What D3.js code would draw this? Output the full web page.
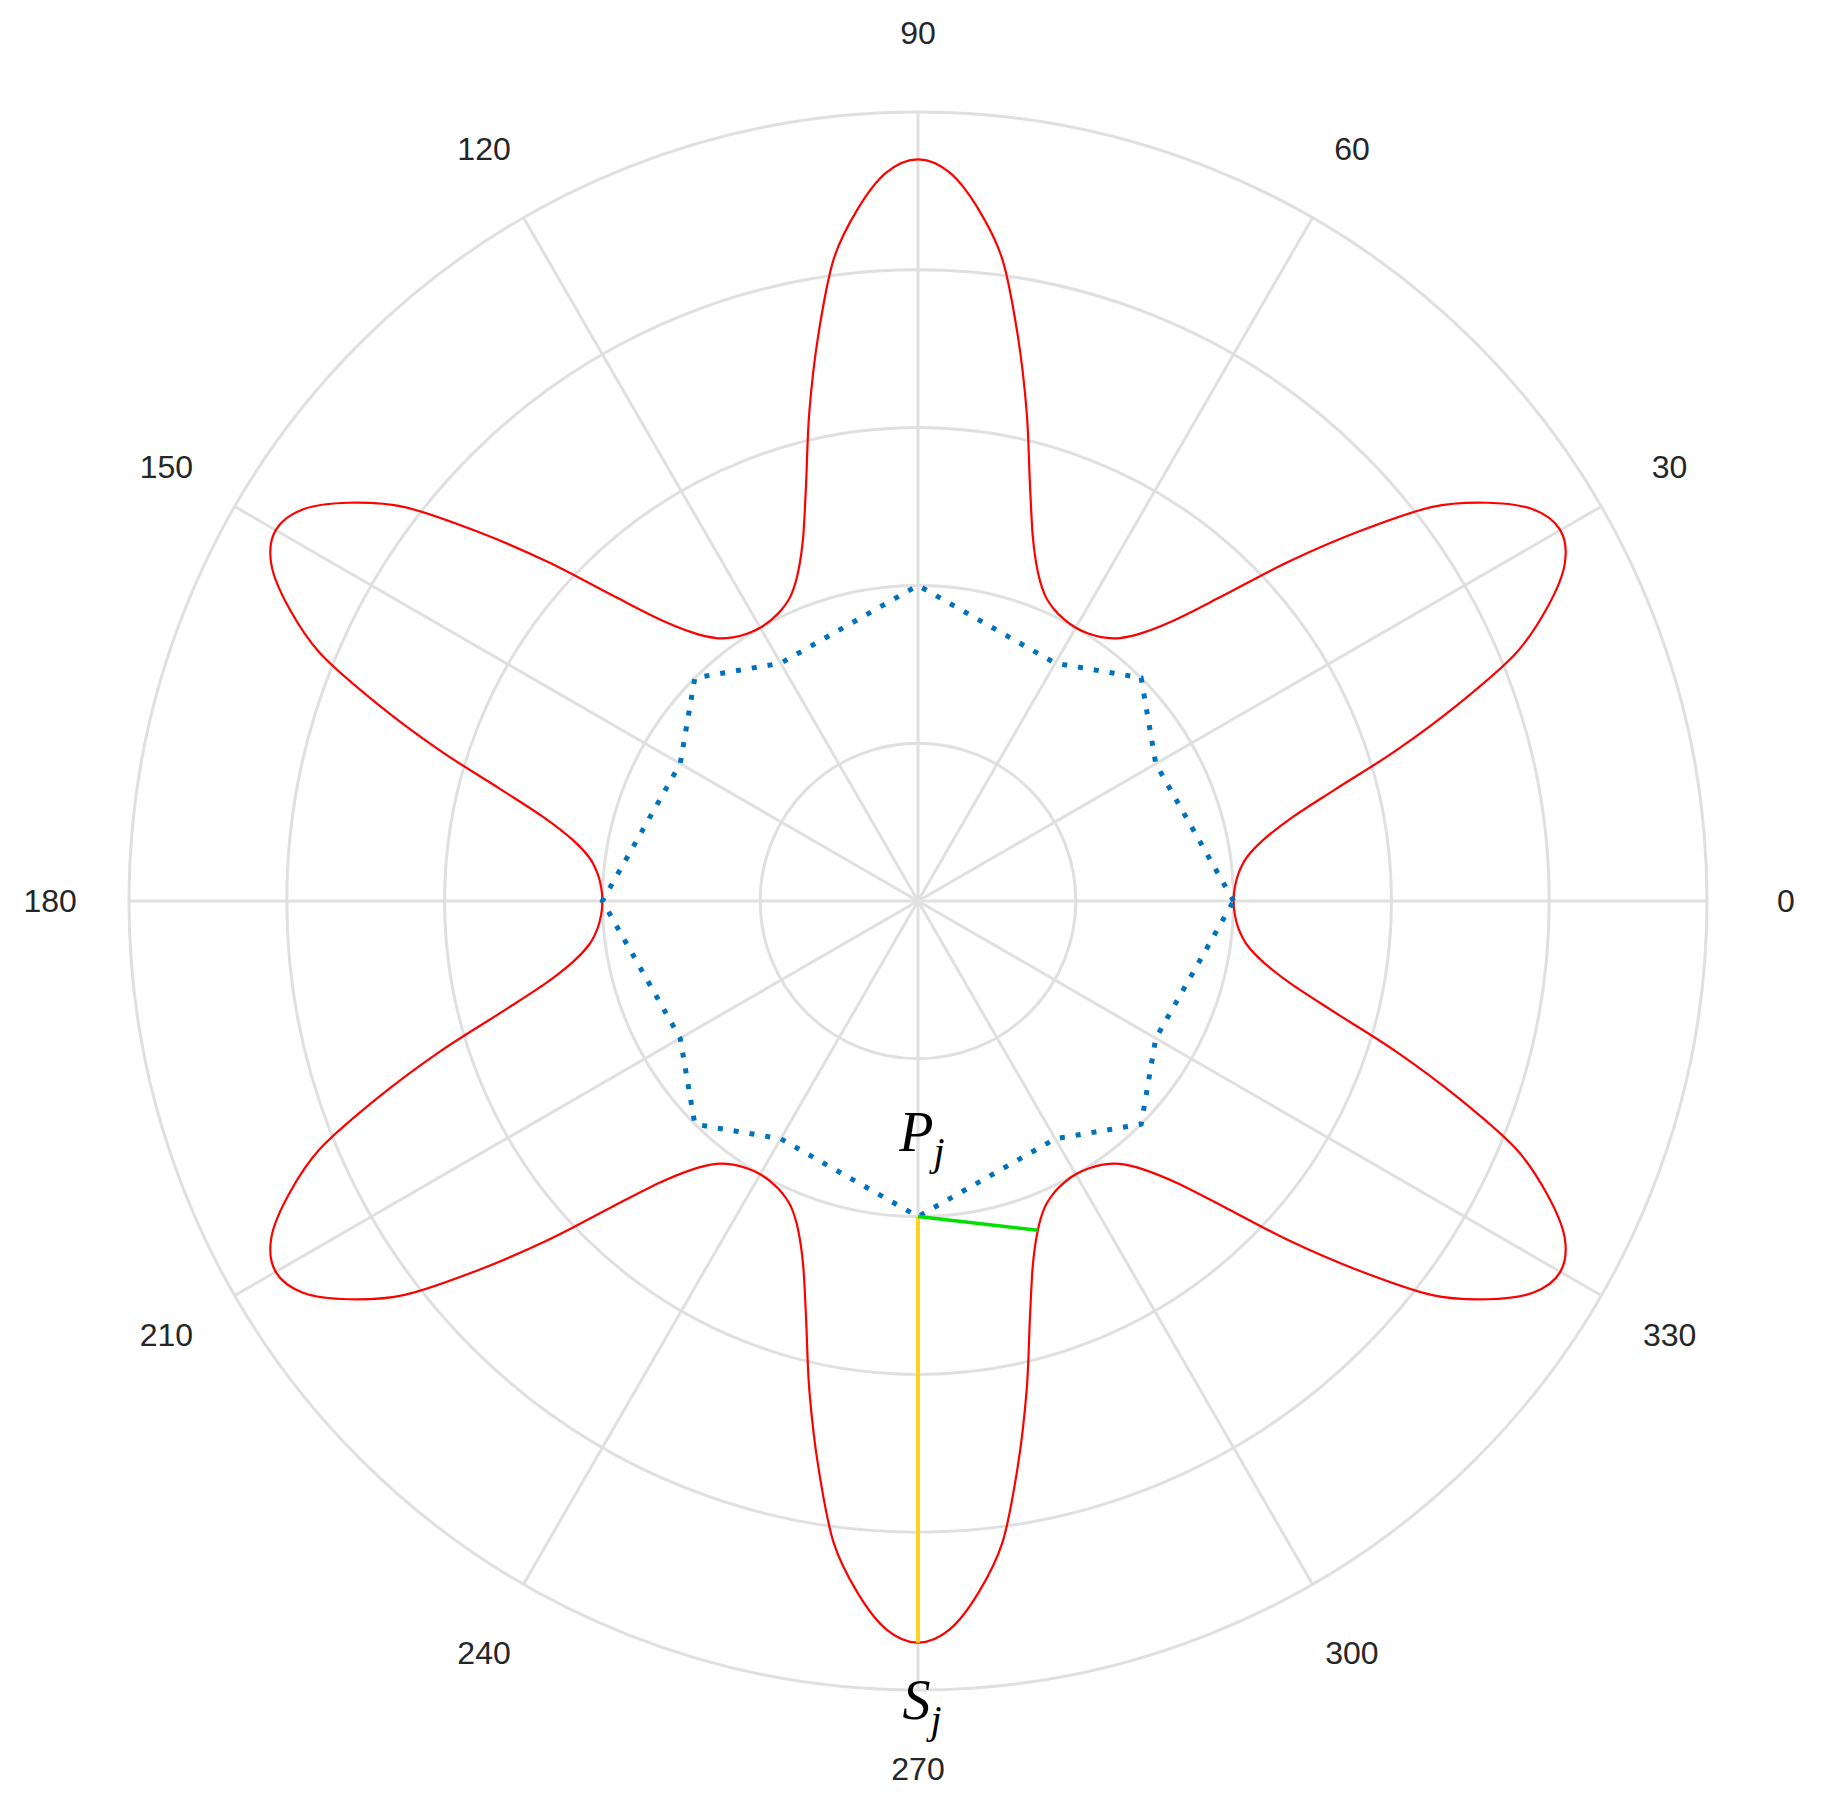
<!DOCTYPE html>
<html><head><meta charset="utf-8">
<script src="https://cdn.jsdelivr.net/npm/d3@7"></script>
<style>body{margin:0;background:#fff}</style></head>
<body><svg id="c" width="1829" height="1805"></svg>
<script>
// data
const ringValues = [1, 2, 3, 4, 5];
const angleTicks = [0, 30, 60, 90, 120, 150, 180, 210, 240, 270, 300, 330];
// red curve: one petal profile (offset from petal centre in degrees, radius)
const petalOffsets = [0, 2.5, 5, 7.5, 10, 12.5, 15, 17.5, 20, 22.5, 25, 27.5, 30];
const petalRadius  = [4.70, 4.62, 4.40, 4.10, 3.64, 3.18, 2.74, 2.42, 2.22, 2.10, 2.04, 2.01, 2.00];
const petalCentres = [30, 90, 150, 210, 270, 330];
// blue dotted polygon
const blueAngles = [0, 30, 45, 60, 90, 120, 135, 150, 180, 210, 225, 240, 270, 300, 315, 330];
const blueRadius = [2.0, 1.74, 2.0, 1.74, 2.0, 1.74, 2.0, 1.74, 2.0, 1.74, 2.0, 1.74, 2.0, 1.74, 2.0, 1.74];
// segments
const yellowSeg = [[270, 2.0], [270, 4.70]];
const greenSeg = [[270, 2.0], [290, 2.22]];

const cx = 918, cy = 901, R = 789;
const svg = d3.select("#c");
const g = svg.append("g").attr("transform", `translate(${cx},${cy})`);
const r = d3.scaleLinear().domain([0, 5]).range([0, R]);
const a = d3.scaleLinear().domain([0, 360]).range([0, 2 * Math.PI]);
const px = (deg, v) => r(v) * Math.cos(a(deg));
const py = (deg, v) => -r(v) * Math.sin(a(deg));

// grid
g.selectAll("circle.ring").data(ringValues).join("circle")
  .attr("r", d => r(d)).attr("fill", "none").attr("stroke", "#e0e0e0").attr("stroke-width", 3);
g.selectAll("line.spoke").data(angleTicks).join("line")
  .attr("x1", 0).attr("y1", 0).attr("x2", d => px(d, 5)).attr("y2", d => py(d, 5))
  .attr("stroke", "#e0e0e0").attr("stroke-width", 3);
g.selectAll("text.tick").data(angleTicks).join("text")
  .attr("x", d => r(5.5) * Math.cos(a(d))).attr("y", d => -r(5.5) * Math.sin(a(d)))
  .attr("text-anchor", "middle").attr("dominant-baseline", "central")
  .attr("font-family", "Liberation Sans, Arial, sans-serif").attr("font-size", 32).attr("fill", "#262626")
  .text(d => d);

// red curve points
const redPts = [];
petalCentres.forEach(c => {
  for (let i = petalOffsets.length - 1; i > 0; i--) redPts.push([c - petalOffsets[i], petalRadius[i]]);
  for (let i = 0; i < petalOffsets.length - 1; i++) redPts.push([c + petalOffsets[i], petalRadius[i]]);
});
const lineGen = d3.lineRadial().angle(d => Math.PI / 2 - a(d[0])).radius(d => r(d[1]));
g.append("path").datum(redPts).attr("d", lineGen.curve(d3.curveCardinalClosed.tension(0)))
  .attr("fill", "none").attr("stroke", "#ff0000").attr("stroke-width", 2.2);

const bluePts = blueAngles.map((d, i) => [d, blueRadius[i]]);
g.append("path").datum(bluePts).attr("d", d3.lineRadial().angle(d => Math.PI / 2 - a(d[0])).radius(d => r(d[1])).curve(d3.curveLinearClosed))
  .attr("fill", "none").attr("stroke", "#0072BD").attr("stroke-width", 5).attr("stroke-dasharray", "5 11");

g.append("line").attr("x1", px(...yellowSeg[0])).attr("y1", py(...yellowSeg[0]))
  .attr("x2", px(...yellowSeg[1])).attr("y2", py(...yellowSeg[1]))
  .attr("stroke", "#FFD21F").attr("stroke-width", 4);
g.append("line").attr("x1", px(...greenSeg[0])).attr("y1", py(...greenSeg[0]))
  .attr("x2", px(...greenSeg[1])).attr("y2", py(...greenSeg[1]))
  .attr("stroke", "#00E000").attr("stroke-width", 3.5);

function lab(x, y, main) {
  const t = g.append("text").attr("x", x).attr("y", y).attr("text-anchor", "middle")
    .attr("font-family", "Liberation Serif, Times New Roman, serif").attr("font-style", "italic")
    .attr("font-size", 56).attr("fill", "#000");
  t.append("tspan").text(main);
  t.append("tspan").attr("font-size", 40).attr("dy", 14).text("j");
}
lab(px(270, 1.2) + 4, -py(90, 0) + 250, "P");
lab(4, r(4.7) + 76, "S");
</script></body></html>
